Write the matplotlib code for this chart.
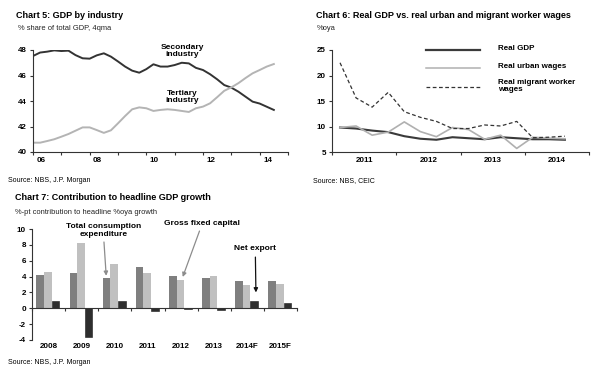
import numpy as np
import matplotlib
matplotlib.use('Agg')
import matplotlib.pyplot as plt

plt.rcParams['font.family'] = ['Liberation Sans', 'DejaVu Sans']
plt.rcParams['axes.unicode_minus'] = False

# Chart 5: GDP share by industry, quarterly from 2006Q1, 4qma
years5 = np.arange(35) * 0.25 + 2006.0
secondary = [47.53, 47.80, 47.87, 47.97, 47.92, 47.95, 47.60, 47.35, 47.32, 47.58,
             47.74, 47.48, 47.10, 46.70, 46.38, 46.22, 46.50, 46.88, 46.70, 46.70,
             46.82, 47.00, 46.95, 46.60, 46.43, 46.10, 45.70, 45.25, 45.05, 44.73,
             44.34, 43.95, 43.80, 43.55, 43.30]
tertiary = [40.73, 40.73, 40.86, 41.00, 41.20, 41.41, 41.67, 41.93, 41.93, 41.72,
            41.50, 41.70, 42.25, 42.82, 43.35, 43.50, 43.43, 43.22, 43.30, 43.35,
            43.30, 43.22, 43.14, 43.43, 43.56, 43.82, 44.30, 44.80, 45.07, 45.40,
            45.80, 46.17, 46.43, 46.70, 46.90]
ticks5 = ['06', '08', '10', '12', '14']

# Chart 6: real GDP vs wages, %oya, quarterly 2011Q1-2014Q3
years6 = ['2011', '2012', '2013', '2014']
real_gdp = [9.8, 9.6, 9.2, 8.9, 8.1, 7.6, 7.4, 7.9, 7.7, 7.5, 7.9, 7.7, 7.5, 7.5, 7.4]
urban_wages = [9.8, 10.1, 8.3, 8.9, 10.9, 9.0, 8.0, 9.8, 9.4, 7.5, 8.3, 5.7, 7.9, 7.7, 7.6]
migrant_wages = [22.5, 15.6, 13.8, 16.7, 12.9, 11.8, 11.0, 9.6, 9.6, 10.3, 10.1, 11.0, 7.8, 7.9, 8.1]

# Chart 7: contribution to headline GDP growth
years7 = ['2008', '2009', '2010', '2011', '2012', '2013', '2014F', '2015F']
consumption = [4.25, 4.4, 3.85, 5.2, 4.1, 3.85, 3.5, 3.4]
fixed_capital = [4.6, 8.2, 5.6, 4.5, 3.6, 4.05, 3.0, 3.1]
net_export = [0.9, -3.6, 0.93, -0.3, -0.1, -0.2, 0.93, 0.7]

W, H = 609, 368
fig = plt.figure(figsize=(W / 100, H / 100), dpi=100)


def px_axes(l, t, r, b):
    return fig.add_axes([l / W, 1 - b / H, (r - l) / W, (b - t) / H])


def style(ax):
    for s in ['top', 'right']:
        ax.spines[s].set_visible(False)
    for s in ['left', 'bottom']:
        ax.spines[s].set_color('#333333')
        ax.spines[s].set_linewidth(0.8)
    ax.tick_params(length=2.5, width=0.8, color='#333333', labelsize=5.8, pad=2)
    for lab in ax.get_xticklabels() + ax.get_yticklabels():
        lab.set_fontweight('bold')


tsize, ssize = 6.5, 5.4

# ---------------- Chart 5 ----------------
ax5 = px_axes(33, 50, 288, 152)
ax5.plot(years5, secondary, color='#333333', lw=1.4)
ax5.plot(years5, tertiary, color='#b4b4b4', lw=1.4)
ax5.set_xlim(2006, 2015)
ax5.set_ylim(40, 48)
ax5.set_yticks([40, 42, 44, 46, 48])
ax5.set_xticks(np.arange(2006, 2016))
ax5.set_xticklabels([])
ax5.set_xticks(np.arange(2006, 2015, 2) + 0.28, minor=True)
ax5.set_xticklabels(ticks5, minor=True)
ax5.tick_params(axis='x', which='minor', length=0)
style(ax5)
for lab in ax5.get_xticklabels(minor=True):
    lab.set_fontweight('bold')
    lab.set_fontsize(5.8)
ax5.text(2011.26, 47.96, 'Secondary\nindustry', ha='center', va='center',
         fontsize=6.0, fontweight='bold', linespacing=1.0)
ax5.text(2011.26, 44.35, 'Tertiary\nindustry', ha='center', va='center',
         fontsize=6.0, fontweight='bold', linespacing=1.0)
fig.text(16 / W, 1 - 15 / H, 'Chart 5: GDP by industry', fontsize=tsize,
         fontweight='bold', va='center')
fig.text(18 / W, 1 - 29 / H, '% share of total GDP, 4qma', fontsize=ssize,
         va='center', color='#222222')
fig.text(8 / W, 1 - 181 / H, 'Source: NBS, J.P. Morgan', fontsize=5.0, va='center')

# ---------------- Chart 6 ----------------
ax6 = px_axes(332, 50, 589, 152)
x6 = np.arange(len(real_gdp)) + 0.5
ax6.plot(x6, real_gdp, color='#3a3a3a', lw=1.5)
ax6.plot(x6, urban_wages, color='#b0b0b0', lw=1.2)
ax6.plot(x6, migrant_wages, color='#333333', lw=0.9, ls=(0, (3, 2)))
ax6.set_xlim(0, 16)
ax6.set_ylim(5, 25)
ax6.set_yticks([5, 10, 15, 20, 25])
ax6.set_xticks([0, 4, 8, 12, 16])
ax6.set_xticklabels([])
ax6.set_xticks([2, 6, 10, 14], minor=True)
ax6.set_xticklabels(years6, minor=True)
ax6.tick_params(axis='x', which='minor', length=0)
style(ax6)
for lab in ax6.get_xticklabels(minor=True):
    lab.set_fontweight('bold')
    lab.set_fontsize(5.8)

leg = [('Real GDP', '#3a3a3a', 1.6, '-', 1.0),
       ('Real urban wages', '#b0b0b0', 1.1, '-', 0.824),
       ('Real migrant worker\nwages', '#333333', 0.9, (0, (3, 2)), 0.637)]
for name, c, lw, ls, yy in leg:
    ax6.plot([0.366, 0.576], [yy, yy], transform=ax6.transAxes, color=c, lw=lw,
             ls=ls, clip_on=False)
    multi = '\n' in name
    ax6.text(0.646, yy + (0.075 if multi else 0.01), name, transform=ax6.transAxes,
             fontsize=5.8, fontweight='bold', va='top' if multi else 'center',
             linespacing=1.0)
fig.text(316 / W, 1 - 15 / H, 'Chart 6: Real GDP vs. real urban and migrant worker wages',
         fontsize=tsize, fontweight='bold', va='center')
fig.text(317 / W, 1 - 29 / H, '%oya', fontsize=ssize, va='center', color='#222222')
fig.text(313 / W, 1 - 181 / H, 'Source: NBS, CEIC', fontsize=5.0, va='center')

# ---------------- Chart 7 ----------------
ax7 = px_axes(32, 229, 297, 340)
x7 = np.arange(len(years7))
bw = 0.23
ax7.bar(x7 - 0.25, consumption, bw, color='#7f7f7f')
ax7.bar(x7 - 0.02, fixed_capital, bw, color='#c0c0c0')
ax7.bar(x7 + 0.21, net_export, bw, color='#2e2e2e', edgecolor='#1a1a1a', lw=0.4)
ax7.set_xlim(-0.5, len(years7) - 0.5)
ax7.set_ylim(-4, 10)
ax7.set_yticks(np.arange(-4, 11, 2))
ax7.spines['bottom'].set_position(('data', 0))
ax7.set_xticks(np.arange(len(years7) + 1) - 0.5)
ax7.set_xticklabels([])
style(ax7)
for i, lab in enumerate(years7):
    ax7.text(i, -4.8, lab, ha='center', va='center', fontsize=5.8, fontweight='bold')
ax7.annotate('Total consumption\nexpenditure', xy=(1.74, 4.1), xytext=(1.65, 9.8),
             ha='center', va='center', fontsize=6.0, fontweight='bold',
             linespacing=1.1, annotation_clip=False,
             arrowprops=dict(arrowstyle='-|>', color='#8c8c8c', lw=0.9,
                             mutation_scale=6, shrinkA=1, shrinkB=0))
ax7.annotate('Gross fixed capital', xy=(4.05, 3.95), xytext=(4.64, 10.7),
             ha='center', va='center', fontsize=6.0, fontweight='bold',
             annotation_clip=False,
             arrowprops=dict(arrowstyle='-|>', color='#8c8c8c', lw=0.9,
                             mutation_scale=6, shrinkA=1, shrinkB=0))
ax7.annotate('Net export', xy=(6.26, 2.0), xytext=(6.24, 7.6),
             ha='center', va='center', fontsize=6.0, fontweight='bold',
             annotation_clip=False,
             arrowprops=dict(arrowstyle='-|>', color='#111111', lw=0.9,
                             mutation_scale=6, shrinkA=2, shrinkB=0))
fig.text(15 / W, 1 - 197 / H, 'Chart 7: Contribution to headline GDP growth',
         fontsize=tsize, fontweight='bold', va='center')
fig.text(15 / W, 1 - 212 / H, '%-pt contribution to headline %oya growth',
         fontsize=ssize, va='center', color='#222222')
fig.text(8 / W, 1 - 363 / H, 'Source: NBS, J.P. Morgan', fontsize=5.0, va='center')

fig.savefig('out.png', dpi=100)
